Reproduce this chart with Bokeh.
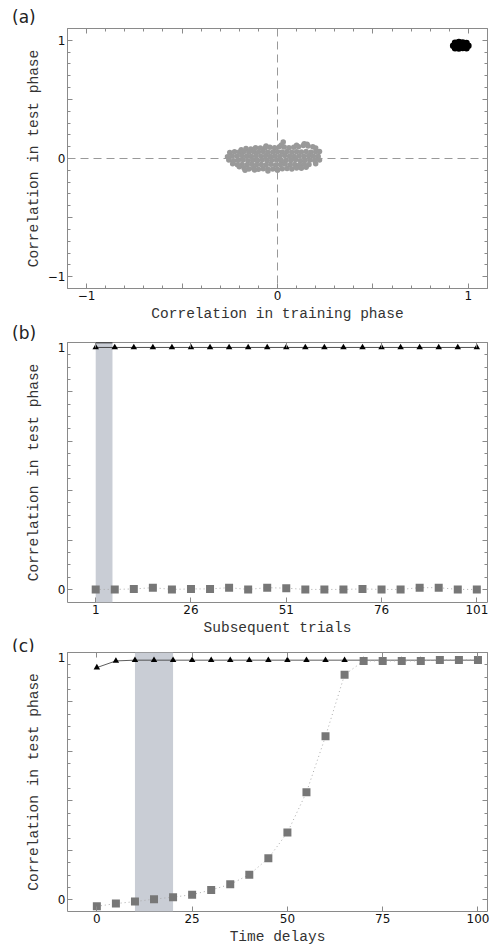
import numpy as np
from bokeh.plotting import figure
from bokeh.layouts import column
from bokeh.models import Range1d, Span, LinearAxis, FixedTicker, BoxAnnotation
from bokeh.core.properties import value
from bokeh.embed import file_html
from bokeh.resources import INLINE

# ---------------- data ----------------
# panel (a): gray cloud (untrained), black cluster (trained)
a_gray_x = [
    -0.19, -0.165, -0.14, -0.115, -0.09, -0.065, -0.04, -0.015, 0.01, 0.035, 0.06, 0.085, 0.11, 0.135, 0.16, 0.185, 0.20,
    0.03, 0.02, 0.14, 0.155, -0.06, 0.10,
    -0.25, -0.225, -0.20, -0.175, -0.15, -0.125, -0.10, -0.075, -0.05, -0.025, 0.0, 0.025, 0.05, 0.075, 0.10, 0.125, 0.15, 0.175, 0.20, 0.22,
    -0.262, -0.237, -0.212, -0.187, -0.162, -0.137, -0.112, -0.087, -0.062, -0.037, -0.012, 0.013, 0.038, 0.063, 0.088, 0.113, 0.138, 0.163, 0.188, 0.213,
    -0.255, -0.23, -0.205, -0.18, -0.155, -0.13, -0.105, -0.08, -0.055, -0.03, -0.005, 0.02, 0.045, 0.07, 0.095, 0.12, 0.145, 0.17, 0.195, 0.22,
    -0.235, -0.21, -0.185, -0.16, -0.135, -0.11, -0.085, -0.06, -0.035, -0.01, 0.015, 0.04, 0.065, 0.09, 0.115, 0.14, 0.165, 0.20,
    -0.20, -0.175, -0.15, -0.125, -0.10, -0.075, -0.05, -0.025, 0.0, 0.025, 0.05, 0.075, 0.10, 0.125, 0.15,
    -0.17, -0.05, 0.0, -0.12,
]
a_gray_y = [
    0.075, 0.085, 0.08, 0.09, 0.088, 0.092, 0.095, 0.09, 0.10, 0.098, 0.09, 0.095, 0.10, 0.11, 0.105, 0.10, 0.088,
    0.14, 0.115, 0.125, 0.12, 0.105, 0.112,
    0.05, 0.058, 0.055, 0.06, 0.052, 0.057, 0.055, 0.06, 0.053, 0.056, 0.058, 0.055, 0.06, 0.052, 0.057, 0.055, 0.06, 0.053, 0.058, 0.06,
    0.015, 0.022, 0.018, 0.025, 0.02, 0.017, 0.023, 0.019, 0.024, 0.016, 0.021, 0.018, 0.025, 0.02, 0.017, 0.022, 0.019, 0.024, 0.02, 0.018,
    -0.012, -0.018, -0.015, -0.01, -0.02, -0.014, -0.017, -0.011, -0.019, -0.015, -0.012, -0.018, -0.014, -0.016, -0.011, -0.019, -0.015, -0.013, -0.017, -0.012,
    -0.045, -0.052, -0.05, -0.055, -0.048, -0.053, -0.05, -0.056, -0.049, -0.054, -0.051, -0.047, -0.055, -0.05, -0.052, -0.048, -0.05, -0.045,
    -0.07, -0.082, -0.088, -0.085, -0.09, -0.086, -0.092, -0.088, -0.09, -0.087, -0.085, -0.088, -0.08, -0.083, -0.075,
    -0.10, -0.105, -0.10, -0.098,
]
a_black_x = [0.93, 0.95, 0.97, 0.99, 0.92, 0.94, 0.96, 0.98, 1.00, 0.93, 0.95, 0.97, 0.99]
a_black_y = [0.98, 0.985, 0.982, 0.978, 0.955, 0.958, 0.96, 0.956, 0.955, 0.932, 0.93, 0.935, 0.932]

# panel (b): subsequent trials
b_trials = [1, 6, 11, 16, 21, 26, 31, 36, 41, 46, 51, 56, 61, 66, 71, 76, 81, 86, 91, 96, 101]
b_tri = [0.98, 0.98, 0.98, 0.98, 0.98, 0.98, 0.98, 0.98, 0.98, 0.98, 0.98,
         0.98, 0.98, 0.98, 0.98, 0.98, 0.98, 0.98, 0.98, 0.98, 0.98]
b_sq = [0.0, 0.0, 0.002, 0.007, 0.0, 0.002, 0.002, 0.007, 0.0, 0.007, 0.005,
        0.0, 0.0, 0.0, 0.002, 0.0, 0.0, 0.007, 0.007, 0.0, 0.0]
b_shade = [1, 5.4]

# panel (c): time delays
c_delays = [0, 5, 10, 15, 20, 25, 30, 35, 40, 45, 50, 55, 60, 65, 70, 75, 80, 85, 90, 95, 100]
c_tri = [0.939, 0.966, 0.969, 0.969, 0.969, 0.969, 0.969, 0.969, 0.969, 0.969, 0.969,
         0.969, 0.969, 0.969, 0.969, 0.969, 0.969, 0.969, 0.969, 0.969, 0.969]
c_sq = [-0.026, -0.015, -0.007, 0.003, 0.011, 0.021, 0.040, 0.063, 0.102, 0.168, 0.272,
        0.435, 0.661, 0.910, 0.966, 0.966, 0.966, 0.966, 0.970, 0.970, 0.970]
c_shade = [10, 20]

panel_tags = ["(a)", "(b)", "(c)"]

# ---------------- styling helpers ----------------
FRAME = "#8a8a8a"
TICKF = "DejaVu Sans"
LABF = "Liberation Mono"
SHADE = "#c9cdd5"


def style_axis(ax, ticker, overrides=None, show_labels=True):
    ax.ticker = ticker
    ax.axis_line_color = None
    ax.major_tick_in = 5
    ax.major_tick_out = 0
    ax.minor_tick_in = 3
    ax.minor_tick_out = 0
    ax.major_tick_line_color = FRAME
    ax.minor_tick_line_color = FRAME
    if overrides:
        ax.major_label_overrides = overrides
    if show_labels:
        ax.major_label_text_font = TICKF
        ax.major_label_text_font_size = "12px"
        ax.major_label_text_color = "#111111"
        ax.major_label_standoff = 2
    else:
        ax.major_label_text_font_size = "0px"
        ax.major_label_standoff = 0
        ax.major_label_text_color = None


def make_fig(xr, yr, fh, bottom, xt, yt, xover, yover, xlabel, ylabel, y_lab_standoff):
    p = figure(frame_width=420, frame_height=fh, x_range=Range1d(*xr), y_range=Range1d(*yr),
               output_backend="svg", toolbar_location=None, frame_align=False,
               min_border_left=67, min_border_right=5, min_border_top=0, min_border_bottom=bottom)
    p.grid.visible = False
    p.outline_line_color = FRAME
    p.outline_line_width = 1
    p.background_fill_color = "white"
    p.border_fill_color = "white"
    style_axis(p.xaxis[0], xt, xover)
    style_axis(p.yaxis[0], yt, yover)
    for ax, lab, so in ((p.xaxis[0], xlabel, 3), (p.yaxis[0], ylabel, y_lab_standoff)):
        ax.axis_label = lab
        ax.axis_label_text_font = LABF
        ax.axis_label_text_font_size = "14.5px"
        ax.axis_label_text_font_style = "normal"
        ax.axis_label_text_color = "#333333"
        ax.axis_label_standoff = so
    ra = LinearAxis()
    style_axis(ra, yt, show_labels=False)
    p.add_layout(ra, "right")
    ta = LinearAxis()
    style_axis(ta, xt, show_labels=False)
    p.add_layout(ta, "above")
    return p


def tag_strip(h, tag, baseline):
    # thin strip holding the panel letter, in pixel coordinates of the strip
    s = figure(width=492, height=h, x_range=Range1d(0, 492), y_range=Range1d(0, h),
               output_backend="svg", toolbar_location=None, frame_align=False,
               x_axis_location=None, y_axis_location=None, min_border=0)
    s.grid.visible = False
    s.outline_line_color = None
    s.background_fill_color = "white"
    s.border_fill_color = "white"
    s.text(x=[11.5], y=[baseline], text=[tag], text_font=value("DejaVu Sans"),
           text_font_size="17px", text_color="#222222", text_baseline="alphabetic")
    return s


# ---------------- panel (a) ----------------
ta_major = [-1, -0.5, 0, 0.5, 1]
ta_minor = [round(v, 2) for v in np.arange(-1.1, 1.11, 0.1)]
pa = make_fig((-1.1, 1.1), (-1.1, 1.1), 260, 36,
              FixedTicker(ticks=ta_major, minor_ticks=ta_minor),
              FixedTicker(ticks=ta_major, minor_ticks=ta_minor),
              {-0.5: "", 0.5: ""}, {-0.5: "", 0.5: ""},
              "Correlation in training phase", "Correlation in test phase", 3)
pa.add_layout(Span(location=0, dimension="height", line_color="#999999", line_dash="8 5", line_width=1))
pa.add_layout(Span(location=0, dimension="width", line_color="#999999", line_dash="8 5", line_width=1))
pa.scatter(a_gray_x, a_gray_y, size=5.5, color="#999999", line_color=None)
pa.scatter(a_black_x, a_black_y, size=6.5, color="black", line_color=None)

# ---------------- panel (b) ----------------
ty_major = [0, 0.2, 0.4, 0.6, 0.8, 1.0]
ty_minor = [round(v, 2) for v in np.arange(0, 1.001, 0.05)]
yover = {0.2: "", 0.4: "", 0.6: "", 0.8: ""}
pb = make_fig((-6.4, 103.8), (-0.053, 1.0), 260, 36,
              FixedTicker(ticks=[1, 26, 51, 76, 101], minor_ticks=[]),
              FixedTicker(ticks=ty_major, minor_ticks=ty_minor),
              None, yover,
              "Subsequent trials", "Correlation in test phase", 13)
pb.add_layout(BoxAnnotation(left=b_shade[0], right=b_shade[1], fill_color=SHADE, fill_alpha=1,
                            line_color=None, level="underlay"))
pb.segment(x0=[b_shade[0]], x1=[b_shade[1]], y0=[1.0], y1=[1.0], line_color="black", line_width=1.5)
pb.line(b_trials, b_tri, line_color="#222222", line_width=0.8)
pb.scatter(b_trials, b_tri, marker="triangle", size=6.5, color="black", line_color=None)
pb.line(b_trials, b_sq, line_color="#aaaaaa", line_dash="1 3", line_width=1)
pb.scatter(b_trials, b_sq, marker="square", size=8, color="#777777", line_color=None)

# ---------------- panel (c) ----------------
pc = make_fig((-7.7, 102.5), (-0.047, 1.0), 259, 36,
              FixedTicker(ticks=[0, 25, 50, 75, 100], minor_ticks=[]),
              FixedTicker(ticks=ty_major, minor_ticks=ty_minor),
              None, yover,
              "Time delays", "Correlation in test phase", 13)
pc.add_layout(BoxAnnotation(left=c_shade[0], right=c_shade[1], fill_color=SHADE, fill_alpha=1,
                            line_color=None, level="underlay"))
pc.line(c_delays, c_tri, line_color="#333333", line_width=0.8)
pc.scatter(c_delays, c_tri, marker="triangle", size=6.5, color="black", line_color=None)
pc.line(c_delays, c_sq, line_color="#aaaaaa", line_dash="1 3", line_width=1)
pc.scatter(c_delays, c_sq, marker="square", size=8, color="#777777", line_color=None)

layout = column(tag_strip(28, panel_tags[0], 11.5), pa,
                tag_strip(18, panel_tags[1], 10.0), pb,
                tag_strip(14, panel_tags[2], 7.0), pc, spacing=0)
open("out.html", "w").write(file_html(layout, INLINE))
